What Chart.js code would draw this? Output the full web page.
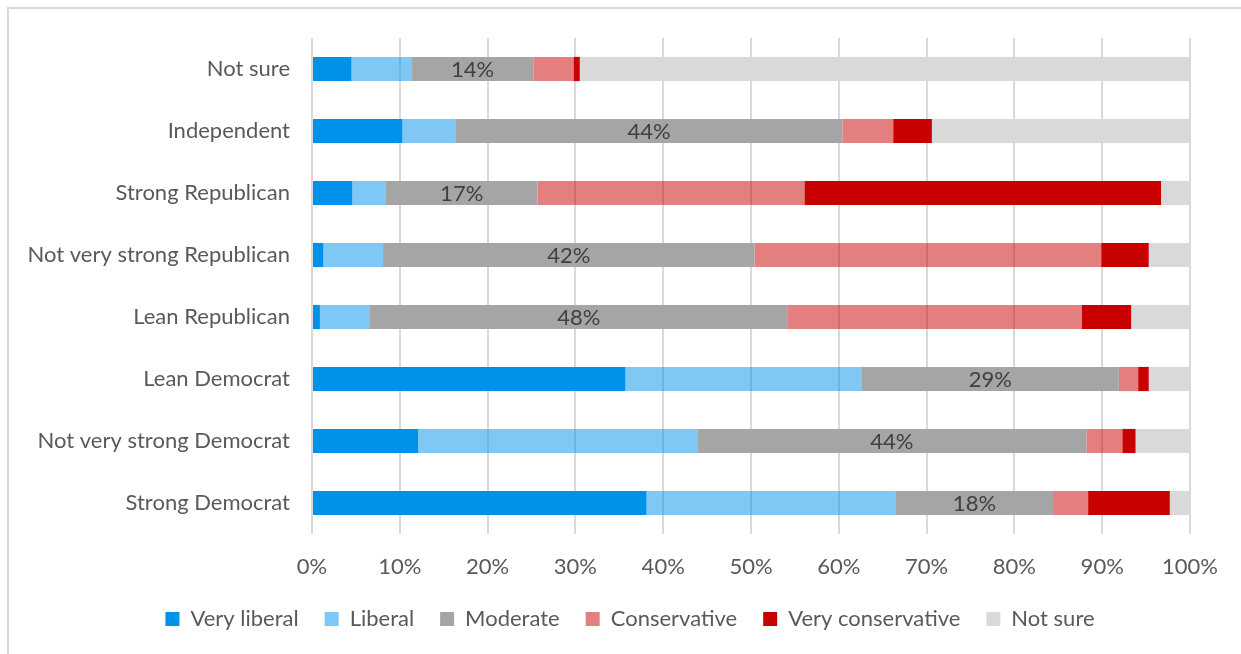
<!DOCTYPE html>
<html>
<head>
<meta charset="utf-8">
<script src="https://cdn.jsdelivr.net/npm/chart.js@4"></script>
<style>
  html, body { margin: 0; padding: 0; background: #fff; overflow: hidden; }
  #frame {
    position: absolute; left: 7px; top: 7px; width: 1400px; height: 800px;
    border-left: 2px solid #d9d9d9; border-top: 2px solid #d9d9d9;
  }
  #wrap { position: absolute; left: 0; top: 0; width: 1241px; height: 654px; }
</style>
</head>
<body>
<div id="frame"></div>
<div id="wrap"><canvas id="chart"></canvas></div>
<script>
const categories = [
  "Not sure",
  "Independent",
  "Strong Republican",
  "Not very strong Republican",
  "Lean Republican",
  "Lean Democrat",
  "Not very strong Democrat",
  "Strong Democrat",
];

// share of each group (percent), top row to bottom row
const veryLiberal = [4.5, 10.3, 4.6, 1.3, 0.9, 35.7, 12.1, 38.1];
const liberal = [6.9, 6.1, 3.8, 6.8, 5.7, 26.9, 31.8, 28.4];
const moderate = [13.8, 44.0, 17.3, 42.3, 47.6, 29.3, 44.3, 17.9];
const conservative = [4.6, 5.8, 30.4, 39.5, 33.5, 2.2, 4.1, 4.0];
const veryConservative = [0.7, 4.4, 40.6, 5.4, 5.6, 1.2, 1.5, 9.3];
const notSure = [69.5, 29.4, 3.3, 4.7, 6.7, 4.7, 6.2, 2.3];

const seriesNames = ["Very liberal", "Liberal", "Moderate", "Conservative", "Very conservative", "Not sure"];
const seriesColors = [
  "#0091eb",
  "rgba(0, 145, 235, 0.5)",
  "#a5a5a5",
  "rgba(200, 0, 0, 0.5)",
  "#c80000",
  "#d9d9d9",
];
const xTicks = [0, 10, 20, 30, 40, 50, 60, 70, 80, 90, 100];

const FONT = "Lato, 'Open Sans', sans-serif";
const FONT_SIZE = 22;
const LEGEND_GAP = 26;   // space between legend items
const LEGEND_TRIM = 18;  // vertical space taken back from the legend box

// writes the rounded value in the middle of the Moderate segments
const moderateLabels = {
  id: "moderateLabels",
  afterDatasetsDraw(chart) {
    const ctx = chart.ctx;
    const meta = chart.getDatasetMeta(2);
    ctx.save();
    ctx.font = FONT_SIZE + "px " + FONT;
    ctx.fillStyle = "#404040";
    ctx.textAlign = "center";
    ctx.textBaseline = "middle";
    meta.data.forEach((bar, i) => {
      const cx = (bar.x + bar.base) / 2;
      ctx.fillText(Math.round(moderate[i]) + "%", cx, bar.y + 1);
    });
    ctx.restore();
  },
};

// long category names run into the left padding; legend keeps wide gaps but less height
const layoutTweaks = {
  id: "layoutTweaks",
  afterInit(chart) {
    const legend = chart.legend;
    const fit = legend.fit;
    legend.fit = function () {
      fit.call(this);
      this.height -= LEGEND_TRIM;
    };
  },
  afterLayout(chart) {
    chart.scales.y.left = 0;
    chart.legend.top -= LEGEND_TRIM;
  },
};

const allSeries = [veryLiberal, liberal, moderate, conservative, veryConservative, notSure];

new Chart(document.getElementById("chart"), {
  type: "bar",
  data: {
    labels: categories,
    datasets: allSeries.map((data, i) => ({
      label: seriesNames[i],
      data,
      backgroundColor: seriesColors[i],
      borderWidth: 0,
      barPercentage: 0.39,
      categoryPercentage: 1,
    })),
  },
  options: {
    indexAxis: "y",
    responsive: true,
    maintainAspectRatio: false,
    animation: false,
    layout: { padding: { top: 38, right: 51, left: 70, bottom: 14 } },
    scales: {
      x: {
        stacked: true,
        min: 0,
        max: 100,
        afterBuildTicks: (scale) => {
          scale.ticks = xTicks.map((v) => ({ value: v }));
        },
        ticks: {
          callback: (v) => v + "%",
          color: "#595959",
          font: { family: FONT, size: FONT_SIZE, lineHeight: 1 },
          padding: 22,
          maxRotation: 0,
        },
        grid: { color: "#d9d9d9", lineWidth: 2, drawTicks: false },
        border: { display: false },
      },
      y: {
        stacked: true,
        afterFit: (scale) => {
          scale.width = 242;
        },
        ticks: {
          color: "#595959",
          font: { family: FONT, size: FONT_SIZE },
          padding: 22,
        },
        grid: { display: false, drawTicks: false },
        border: { display: false },
      },
    },
    plugins: {
      legend: {
        position: "bottom",
        labels: {
          boxWidth: 14,
          boxHeight: 14,
          color: "#595959",
          font: { family: FONT, size: FONT_SIZE },
          padding: LEGEND_GAP,
        },
      },
      tooltip: { enabled: false },
    },
  },
  plugins: [moderateLabels, layoutTweaks],
});
</script>
</body>
</html>
